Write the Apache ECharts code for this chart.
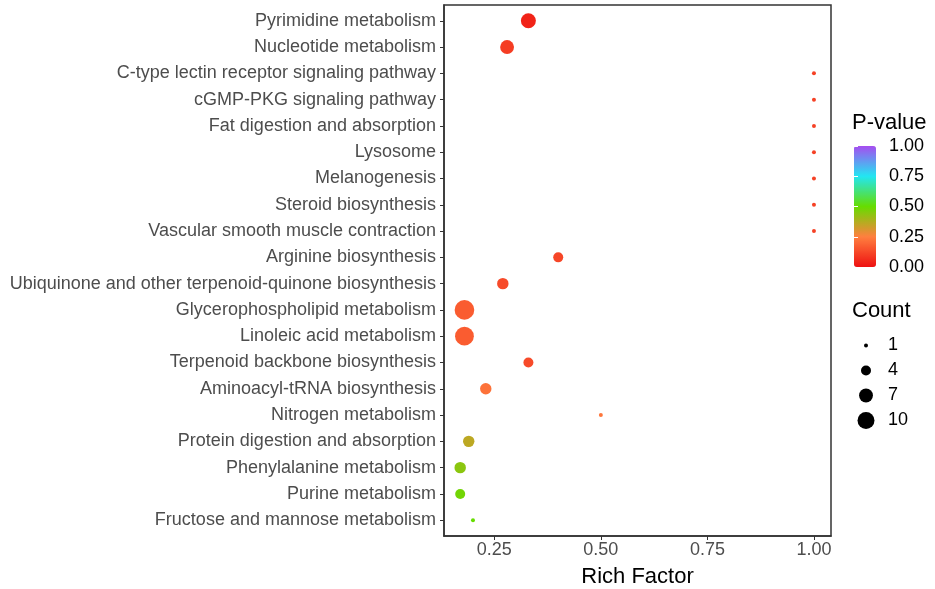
<!DOCTYPE html>
<html>
<head>
<meta charset="utf-8">
<script src="https://cdn.jsdelivr.net/npm/echarts@6/dist/echarts.min.js"></script>
<style>
  html, body { margin: 0; padding: 0; background: #fff; }
  #main { width: 935px; height: 589px; }
</style>
</head>
<body>
<div id="main"></div>
<script>
// KEGG enrichment bubble chart
let pathways = [
    'Pyrimidine metabolism',
    'Nucleotide metabolism',
    'C-type lectin receptor signaling pathway',
    'cGMP-PKG signaling pathway',
    'Fat digestion and absorption',
    'Lysosome',
    'Melanogenesis',
    'Steroid biosynthesis',
    'Vascular smooth muscle contraction',
    'Arginine biosynthesis',
    'Ubiquinone and other terpenoid-quinone biosynthesis',
    'Glycerophospholipid metabolism',
    'Linoleic acid metabolism',
    'Terpenoid backbone biosynthesis',
    'Aminoacyl-tRNA biosynthesis',
    'Nitrogen metabolism',
    'Protein digestion and absorption',
    'Phenylalanine metabolism',
    'Purine metabolism',
    'Fructose and mannose metabolism'
];
let richFactor = [0.33, 0.28, 1, 1, 1, 1, 1, 1, 1, 0.40, 0.27, 0.18, 0.18, 0.33, 0.23, 0.50, 0.19, 0.17, 0.17, 0.20];
let counts     = [8, 7, 1, 1, 1, 1, 1, 1, 1, 4, 5, 13, 12, 4, 5, 1, 5, 5, 4, 1];
let pValues    = [0.04, 0.10, 0.11, 0.11, 0.11, 0.11, 0.11, 0.11, 0.11, 0.12, 0.13, 0.17, 0.17, 0.13, 0.22, 0.23, 0.36, 0.44, 0.48, 0.50];

let xTicks = [0.25, 0.50, 0.75, 1.00];
let countBreaks = ['1', '4', '7', '10'];

function dotSize(c) {
    return -2 + 6 * Math.sqrt(c);
}

// rows are placed by index on a value axis so the ggplot-like 0.6 padding can be kept
let rowIdx = pathways.map(function (p, i) { return i; });

let datosJson = [];
for (let i = 0; i < pathways.length; i++) {
    datosJson.push([richFactor[i], i, counts[i], pValues[i]]);
}

let legendDots = countBreaks.map(function (c) { return [0, c, Number(c)]; });

let font = 'Liberation Sans, Arial, sans-serif';

let myChart = echarts.init(document.getElementById('main'));
myChart.setOption({
    animation: false,
    title: [
        { text: 'P-value', left: 852, top: 112, padding: 0,
          textStyle: { fontFamily: font, fontSize: 22, fontWeight: 'normal', color: '#000' } },
        { text: 'Count', left: 852, top: 300, padding: 0,
          textStyle: { fontFamily: font, fontSize: 22, fontWeight: 'normal', color: '#000' } }
    ],
    grid: [
        { left: 444, right: 104, top: 5, bottom: 53, outerBoundsMode: 'none',
          show: true, borderColor: '#333', borderWidth: 1.5 },
        { left: 854, width: 22, top: 146, height: 121, outerBoundsMode: 'none' },
        { left: 856, width: 20, top: 333, height: 100, outerBoundsMode: 'none' }
    ],
    visualMap: {
        type: 'continuous',
        seriesIndex: 0,
        dimension: 3,
        min: 0,
        max: 1,
        left: 854,
        top: 146,
        itemWidth: 22,
        itemHeight: 121,
        padding: 0,
        calculable: false,
        text: null,
        showLabel: false,
        inRange: { color: ['#EE1111', '#FF7F3F', '#66DD00', '#22E6F2', '#A64DF0'] }
    },
    xAxis: [
        {
            gridIndex: 0,
            type: 'value',
            min: 0.132,
            max: 1.04,
            splitLine: { show: false },
            axisLine: { onZero: false, lineStyle: { color: '#333', width: 1.5 } },
            axisTick: { customValues: xTicks, length: 4, lineStyle: { color: '#333' } },
            axisLabel: {
                customValues: xTicks,
                formatter: function (v) { return v.toFixed(2); },
                color: '#4D4D4D', fontFamily: font, fontSize: 18, margin: 5
            },
            name: 'Rich Factor',
            nameLocation: 'middle',
            nameGap: 30,
            nameTextStyle: { fontFamily: font, fontSize: 22, color: '#000' }
        },
        { gridIndex: 1, type: 'value', show: false },
        { gridIndex: 2, type: 'value', min: -1, max: 1, show: false }
    ],
    yAxis: [
        {
            gridIndex: 0,
            type: 'value',
            min: -0.6,
            max: pathways.length - 0.4,
            inverse: true,
            splitLine: { show: false },
            axisLine: { onZero: false, lineStyle: { color: '#333', width: 1.5 } },
            axisTick: { customValues: rowIdx, length: 4, lineStyle: { color: '#333' } },
            axisLabel: {
                customValues: rowIdx,
                formatter: function (v) { return pathways[Math.round(v)]; },
                color: '#4D4D4D', fontFamily: font, fontSize: 18, margin: 8
            }
        },
        {
            gridIndex: 1,
            type: 'value',
            position: 'right',
            min: 0,
            max: 1,
            interval: 0.25,
            z: 10,
            splitLine: { show: false },
            axisLine: { show: false },
            axisTick: { inside: true, length: 4, lineStyle: { color: '#fff' } },
            axisLabel: {
                formatter: function (v) { return v.toFixed(2); },
                color: '#000', fontFamily: font, fontSize: 18, margin: 13
            }
        },
        {
            gridIndex: 1,
            type: 'value',
            position: 'left',
            min: 0,
            max: 1,
            interval: 0.25,
            z: 10,
            splitLine: { show: false },
            axisLine: { show: false },
            axisTick: { inside: true, length: 4, lineStyle: { color: '#fff' } },
            axisLabel: { show: false }
        },
        {
            gridIndex: 2,
            type: 'category',
            data: countBreaks,
            inverse: true,
            position: 'right',
            axisLine: { show: false },
            axisTick: { show: false },
            axisLabel: { color: '#000', fontFamily: font, fontSize: 18, margin: 12, align: 'left' }
        }
    ],
    series: [
        {
            name: 'Pathways',
            type: 'scatter',
            xAxisIndex: 0,
            yAxisIndex: 0,
            data: datosJson,
            symbolSize: function (d) { return dotSize(d[2]); },
            itemStyle: { opacity: 1 }
        },
        {
            name: 'Count legend',
            type: 'scatter',
            xAxisIndex: 2,
            yAxisIndex: 3,
            data: legendDots,
            symbolSize: function (d) { return dotSize(d[2]); },
            itemStyle: { color: '#000', opacity: 1 },
            silent: true
        }
    ]
});
</script>
</body>
</html>
